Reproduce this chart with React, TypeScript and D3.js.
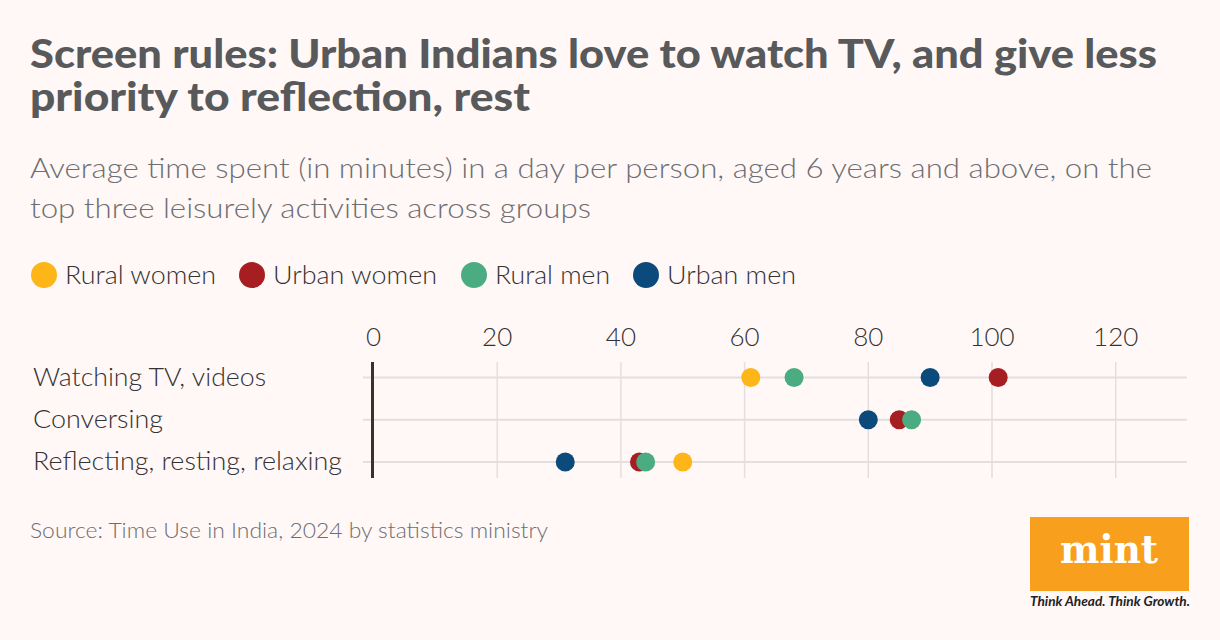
import * as d3 from 'd3';
import React, { useEffect, useRef } from 'react';

const activities = ['Watching TV, videos', 'Conversing', 'Reflecting, resting, relaxing'];
const groups = ['Rural women', 'Urban women', 'Rural men', 'Urban men'];
const groupColors = ['#fdb517', '#a61e22', '#4bac81', '#0c4a7b'];

// minutes per day, one array per group, in activity order
const ruralWomen = [61, null, 50];
const urbanWomen = [101, 85, 43];
const ruralMen = [68, 87, 44];
const urbanMen = [90, 80, 31];

const xTicks = [0, 20, 40, 60, 80, 100, 120];

const W = 1220;
const H = 640;

const titleLines = [
    ['Screen rules: Urban Indians love to watch TV, and give less', 1127],
    ['priority to reflection, rest', 500],
];
const subLines = [
    ['Average time spent (in minutes) in a day per person, aged 6 years and above, on the', 1122],
    ['top three leisurely activities across groups', 561],
];
const legendWidths = [151, 164, 115, 129];
const labelWidths = [233, 130, 309];

const App = () => {
    const svgRef = useRef<SVGSVGElement | null>(null);

    useEffect(() => {
        document.body.style.margin = '0';
        const svg = d3.select(svgRef.current);
        svg.selectAll('*').remove();

        svg.append('rect').attr('width', W).attr('height', H).attr('fill', '#fff8f7');

        // title
        titleLines.forEach(([t, w], i) => {
            svg.append('text')
                .attr('x', 30).attr('y', 68 + i * 43)
                .attr('font-family', 'Lato')
                .attr('font-weight', 900)
                .attr('font-size', 40)
                .attr('fill', '#58595b')
                .attr('textLength', w).attr('lengthAdjust', 'spacingAndGlyphs')
                .text(t as string);
        });

        subLines.forEach(([t, w], i) => {
            svg.append('text')
                .attr('x', 30).attr('y', 178 + i * 40)
                .attr('font-family', 'Lato')
                .attr('font-weight', 300)
                .attr('font-size', 28)
                .attr('fill', '#6d6e71')
                .attr('textLength', w).attr('lengthAdjust', 'spacingAndGlyphs')
                .text(t as string);
        });

        // legend
        const legendX = [44, 252, 474, 646];
        const legend = svg.append('g');
        groups.forEach((g, i) => {
            legend.append('circle')
                .attr('cx', legendX[i]).attr('cy', 275).attr('r', 13)
                .attr('fill', groupColors[i]);
            legend.append('text')
                .attr('x', legendX[i] + 21).attr('y', 284)
                .attr('font-family', 'Lato').attr('font-weight', 300)
                .attr('font-size', 26).attr('fill', '#333')
                .attr('textLength', legendWidths[i]).attr('lengthAdjust', 'spacingAndGlyphs')
                .text(g);
        });

        const x = d3.scaleLinear().domain([0, 120]).range([373.5, 1115.7]);
        const y = d3.scalePoint<string>().domain(activities).range([377.5, 462]);

        const top = 362;
        const bottom = 478;
        const right = 1187;

        // vertical grid
        svg.append('g')
            .selectAll('line')
            .data(xTicks.filter((t) => t > 0))
            .join('line')
            .attr('x1', (d) => x(d)).attr('x2', (d) => x(d))
            .attr('y1', top).attr('y2', bottom)
            .attr('stroke', '#e3dfdf').attr('stroke-width', 1.5);

        // horizontal row lines
        svg.append('g')
            .selectAll('line')
            .data(activities)
            .join('line')
            .attr('x1', 363).attr('x2', right)
            .attr('y1', (d) => y(d)!).attr('y2', (d) => y(d)!)
            .attr('stroke', '#e3dfdf').attr('stroke-width', 2);

        // tick labels
        svg.append('g')
            .selectAll('text')
            .data(xTicks)
            .join('text')
            .attr('x', (d) => x(d)).attr('y', 346)
            .attr('text-anchor', 'middle')
            .attr('font-family', 'Lato').attr('font-weight', 300)
            .attr('font-size', 26).attr('fill', '#333')
            .text((d) => d);

        // zero line
        svg.append('line')
            .attr('x1', x(0) - 1).attr('x2', x(0) - 1)
            .attr('y1', top).attr('y2', bottom)
            .attr('stroke', '#333').attr('stroke-width', 3);

        // row labels
        svg.append('g')
            .selectAll('text')
            .data(activities)
            .join('text')
            .attr('x', 33).attr('y', (d) => y(d)! + 8)
            .attr('font-family', 'Lato').attr('font-weight', 300)
            .attr('font-size', 26).attr('fill', '#333')
            .attr('textLength', (d, i) => labelWidths[i]).attr('lengthAdjust', 'spacingAndGlyphs')
            .text((d) => d);

        // dots
        const series = [ruralWomen, urbanWomen, ruralMen, urbanMen];
        series.forEach((vals, gi) => {
            svg.append('g')
                .selectAll('circle')
                .data(vals.map((v, i) => ({ v, a: activities[i] })).filter((d) => d.v != null))
                .join('circle')
                .attr('cx', (d) => x(d.v as number))
                .attr('cy', (d) => y(d.a)!)
                .attr('r', 9.5)
                .attr('fill', groupColors[gi]);
        });

        // source
        svg.append('text')
            .attr('x', 30).attr('y', 538)
            .attr('font-family', 'Lato').attr('font-weight', 300)
            .attr('font-size', 22).attr('fill', '#6d6e71')
            .attr('textLength', 518).attr('lengthAdjust', 'spacingAndGlyphs')
            .text('Source: Time Use in India, 2024 by statistics ministry');

        // logo
        svg.append('rect')
            .attr('x', 1030).attr('y', 517).attr('width', 159).attr('height', 74)
            .attr('fill', '#f89f1e');
        svg.append('text')
            .attr('x', 1109).attr('y', 563)
            .attr('text-anchor', 'middle')
            .attr('font-family', 'DejaVu Serif').attr('font-weight', 700)
            .attr('font-size', 40).attr('fill', '#fff')
            .attr('textLength', 98).attr('lengthAdjust', 'spacingAndGlyphs')
            .text('mint');
        svg.append('text')
            .attr('x', 1030).attr('y', 606)
            .attr('font-family', 'Lato').attr('font-weight', 700).attr('font-style', 'italic')
            .attr('font-size', 14).attr('fill', '#222')
            .attr('textLength', 160).attr('lengthAdjust', 'spacingAndGlyphs')
            .text('Think Ahead. Think Growth.');
    }, []);

    return <svg ref={svgRef} width={W} height={H} style={{ display: 'block' }} />;
};

export default App;
